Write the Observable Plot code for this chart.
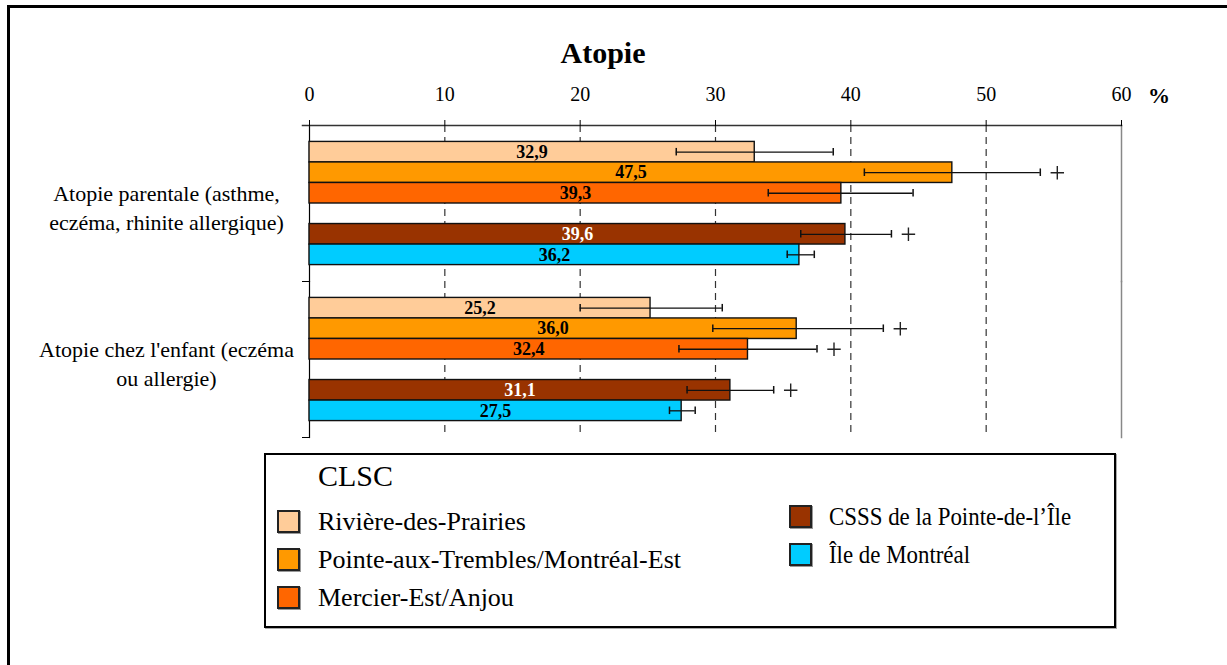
<!DOCTYPE html>
<html>
<head>
<meta charset="utf-8">
<script src="https://cdn.jsdelivr.net/npm/d3@7"></script>
<script src="https://cdn.jsdelivr.net/npm/@observablehq/plot@0.6"></script>
<style>
  html, body { margin: 0; padding: 0; background: white; }
  body { width: 1227px; height: 665px; position: relative; overflow: hidden; font-family: "Liberation Serif", "Times New Roman", serif; }
  #outer { position: absolute; left: 7px; top: 5px; width: 1300px; height: 700px; border-top: 3px solid black; border-left: 3px solid black; }
  #chart { position: absolute; left: 0; top: 0; }
  #title { position: absolute; left: 503px; width: 200px; top: 38px; text-align: center; font-size: 30px; font-weight: bold; line-height: 1; }
  #pct { position: absolute; left: 1148px; top: 85px; font-size: 22px; font-weight: bold; line-height: 1; }
  #legend { position: absolute; left: 264px; top: 453px; width: 848px; height: 171px; border: 2px solid black; box-shadow: 1px 1px 0 #aaa; background: white; }
  .lg-title { position: absolute; left: 52px; top: 6px; font-size: 30px; line-height: 1; }
  .lg-item { position: absolute; font-size: 26px; line-height: 1; white-space: nowrap; transform-origin: 0 50%; }
  .lg-sw { position: absolute; width: 19px; height: 19px; border: 2px solid #222; box-shadow: 1px 1px 0 #999; }
</style>
</head>
<body>
<div id="outer"></div>
<div id="chart"></div>
<div id="title">Atopie</div>
<div id="pct">%</div>
<div id="legend"></div>
<script>
// ---- data ----
const categories = [
  "Atopie parentale (asthme, eczéma, rhinite allergique)",
  "Atopie chez l'enfant (eczéma ou allergie)"
];
const categoryLabels = [
  "Atopie parentale (asthme,\neczéma, rhinite allergique)",
  "Atopie chez l'enfant (eczéma\nou allergie)"
];
const clsc = [
  "Rivière-des-Prairies",
  "Pointe-aux-Trembles/Montréal-Est",
  "Mercier-Est/Anjou",
  "CSSS de la Pointe-de-l’Île",
  "Île de Montréal"
];
const colors = ["#FFCC99", "#FF9900", "#FF6600", "#993300", "#00CCFF"];
const ticks = [0, 10, 20, 30, 40, 50, 60];

const valuesParental = [32.9, 47.5, 39.3, 39.6, 36.2];
const lowParental    = [27.1, 41.0, 33.9, 36.3, 35.3];
const highParental   = [38.7, 54.0, 44.6, 43.0, 37.3];
const sigParental    = [false, true, false, true, false];

const valuesEnfant = [25.2, 36.0, 32.4, 31.1, 27.5];
const lowEnfant    = [20.0, 29.8, 27.3, 27.9, 26.6];
const highEnfant   = [30.5, 42.4, 37.5, 34.3, 28.5];
const sigEnfant    = [false, true, true, true, false];

// ---- table built from arrays ----
const series = [
  [valuesParental, lowParental, highParental, sigParental],
  [valuesEnfant, lowEnfant, highEnfant, sigEnfant]
];
const rows = [];
categories.forEach((cat, ci) => {
  const [v, lo, hi, sig] = series[ci];
  clsc.forEach((c, i) => rows.push({cat, clsc: c, value: v[i], lo: lo[i], hi: hi[i], sig: sig[i]}));
});
const slotDomain = [clsc[0], clsc[1], clsc[2], "\u00a0", clsc[3], clsc[4]];
const fmt = v => v.toFixed(1).replace(".", ",");
const labelOf = new Map(categories.map((c, i) => [c, categoryLabels[i]]));

const FRAME_W = 1227 - 309 - 106;

const chart = Plot.plot({
  width: 1227,
  height: 445,
  marginLeft: 309,
  marginRight: 106,
  marginTop: 125,
  marginBottom: 8,
  style: {fontFamily: "'Liberation Serif', 'Times New Roman', serif", fontSize: "20px", color: "black", background: "transparent"},
  x: {domain: [0, 60]},
  y: {domain: slotDomain, paddingInner: 0, paddingOuter: 0.8, axis: null, round: false},
  fy: {domain: categories, padding: 0, axis: null, round: false},
  color: {domain: clsc, range: colors},
  marks: [
    Plot.ruleX(ticks.filter(t => t > 0 && t < 60), {stroke: "#333", strokeWidth: 1.2, strokeDasharray: "7,5"}),
    Plot.frame({anchor: "right", stroke: "#888", strokeWidth: 1.5}),
    Plot.frame({anchor: "left", stroke: "black", strokeWidth: 1.2}),
    Plot.frame({anchor: "top", facetAnchor: "top", stroke: "#333", strokeWidth: 1.5, insetLeft: -7}),
    Plot.frame({anchor: "top", facetAnchor: "bottom", stroke: "black", insetLeft: -7, insetRight: FRAME_W}),
    Plot.frame({anchor: "bottom", facetAnchor: "bottom", stroke: "black", insetLeft: -7, insetRight: FRAME_W}),
    Plot.axisX({anchor: "top", ticks, tickSize: 6, tickPadding: 19, fontSize: 20, label: null, facetAnchor: "top", fontFamily: "'Liberation Serif', serif"}),
    Plot.barX(rows, {x: "value", y: "clsc", fy: "cat", fill: "clsc", stroke: "#111", strokeWidth: 1.4}),
    Plot.ruleY(rows, {x1: "lo", x2: "hi", y: "clsc", fy: "cat", stroke: "#111", strokeWidth: 1.3}),
    Plot.tickX(rows, {x: "lo", y: "clsc", fy: "cat", stroke: "#111", strokeWidth: 1.5, insetTop: 6.5, insetBottom: 6.5}),
    Plot.tickX(rows, {x: "hi", y: "clsc", fy: "cat", stroke: "#111", strokeWidth: 1.5, insetTop: 6.5, insetBottom: 6.5}),
    Plot.dot(rows.filter(d => d.sig), {x: "hi", y: "clsc", fy: "cat", symbol: "plus", r: 4.4, dx: 17, stroke: "#222", strokeWidth: 1.4}),
    Plot.text(rows.filter(d => d.clsc !== clsc[3]), {x: d => d.value / 2, y: "clsc", fy: "cat", text: d => fmt(d.value), fill: "black", fontWeight: "bold", fontSize: 18, fontFamily: "'Liberation Serif', serif"}),
    Plot.text(rows.filter(d => d.clsc === clsc[3]), {x: d => d.value / 2, y: "clsc", fy: "cat", text: d => fmt(d.value), fill: "white", fontWeight: "bold", fontSize: 18, fontFamily: "'Liberation Serif', serif"}),
    Plot.text(categories, {fy: d => d, text: d => labelOf.get(d), frameAnchor: "left", dx: -143, dy: 3, textAnchor: "middle", lineAnchor: "middle", fontSize: 22, lineHeight: 1.28, fontFamily: "'Liberation Serif', serif"})
  ]
});
document.getElementById("chart").appendChild(chart);

// ---- legend (HTML) ----
const legend = document.getElementById("legend");
const t = document.createElement("div");
t.className = "lg-title";
t.textContent = "CLSC";
legend.appendChild(t);
const legendPos = [
  {sx: 11, sy: 55, tx: 52, sc: 1},
  {sx: 11, sy: 93, tx: 52, sc: 1},
  {sx: 11, sy: 131, tx: 52, sc: 1},
  {sx: 523, sy: 50, tx: 563, sc: 0.88},
  {sx: 523, sy: 88, tx: 563, sc: 0.88}
];
clsc.forEach((name, i) => {
  const p = legendPos[i];
  const sw = document.createElement("div");
  sw.className = "lg-sw";
  sw.style.left = p.sx + "px";
  sw.style.top = p.sy + "px";
  sw.style.background = colors[i];
  legend.appendChild(sw);
  const tx = document.createElement("div");
  tx.className = "lg-item";
  tx.style.left = p.tx + "px";
  tx.style.top = (p.sy - 1) + "px";
  tx.style.transform = "scaleX(" + p.sc + ")";
  tx.textContent = name;
  legend.appendChild(tx);
});
</script>
</body>
</html>
